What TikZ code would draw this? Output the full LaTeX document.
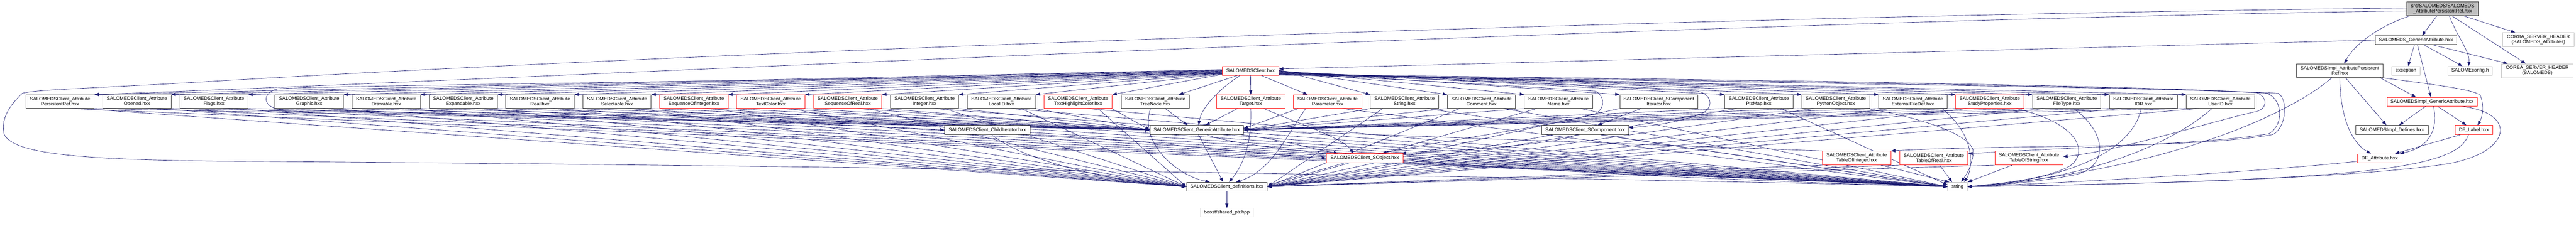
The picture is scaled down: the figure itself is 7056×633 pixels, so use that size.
\documentclass[tikz,border=0pt]{standalone}
\usepackage{fontspec}
\setmainfont{Liberation Sans}
\usetikzlibrary{arrows.meta,calc}
\definecolor{edgec}{HTML}{191970}
\definecolor{dkb}{HTML}{404040}
\definecolor{redb}{HTML}{FF2020}
\definecolor{grb}{HTML}{BFBFBF}
\definecolor{topf}{HTML}{BFBFBF}
\pgfdeclarelayer{bg}
\pgfsetlayers{bg,main}
\newcommand\attrnode[4]{\node[#1,rowbox] (#2) at (#3,278.5) {SALOMEDSClient\_Attribute\\#4.hxx};}
\begin{document}
\begin{tikzpicture}[x=0.75pt,y=-0.75pt,
  bx/.style={draw=dkb, fill=white, line width=1pt, inner sep=0pt, align=center, font=\fontsize{10}{10.6}\selectfont},
  rb/.style={bx, draw=redb, line width=0.9pt},
  gb/.style={bx, draw=grb, line width=0.9pt},
  bw/.style={minimum width=#1*0.75pt},
  bh/.style={minimum height=#1*0.75pt},
  rowbox/.style={bw=187, bh=37},
  lnk/.style={draw=edgec, line width=0.7pt, -{Triangle[length=9pt,width=6.5pt]}},
]
\useasboundingbox (0,0) rectangle (7056,633);

% ---------- nodes ----------
\node[bx,bw=196,bh=38,fill=topf] (top) at (6691,24) {src/SALOMEDS/SALOMEDS\\\_AttributePersistentRef.hxx};
\node[bx,bw=223,bh=24] (sga) at (6617.5,110) {SALOMEDS\_GenericAttribute.hxx};
\node[gb,bw=196,bh=38] (csh1) at (6953,109) {CORBA\_SERVER\_HEADER\\(SALOMEDS\_Attributes)};
\node[bx,bw=236,bh=38] (ipr) at (6409,194) {SALOMEDSImpl\_AttributePersistent\\Ref.hxx};
\node[gb,bw=78,bh=24] (exc) at (6590,194) {exception};
\node[gb,bw=122,bh=24] (cfg) at (6766,194) {SALOMEconfig.h};
\node[gb,bw=196,bh=38] (csh2) at (6950,194) {CORBA\_SERVER\_HEADER\\(SALOMEDS)};
\node[rb,bw=247,bh=24] (iga) at (6661.5,279) {SALOMEDSImpl\_GenericAttribute.hxx};
\node[bx,bw=199,bh=25] (idef) at (6551.5,356.5) {SALOMEDSImpl\_Defines.hxx};
\node[rb,bw=103,bh=25] (dfl) at (6776.5,356.5) {DF\_Label.hxx};
\node[rb,bw=122,bh=24] (dfa) at (6518,434) {DF\_Attribute.hxx};

\node[rb,bw=155,bh=24] (sc) at (3425.5,194) {SALOMEDSClient.hxx};
\node[bx,bw=256,bh=25] (cga) at (3278,356.5) {SALOMEDSClient\_GenericAttribute.hxx};
\node[bx,bw=233,bh=25] (chi) at (2704.5,356.5) {SALOMEDSClient\_ChildIterator.hxx};
\node[bx,bw=238,bh=25] (scomp) at (4342,356.5) {SALOMEDSClient\_SComponent.hxx};
\node[rb,bw=210,bh=25] (sobj) at (3738,433.5) {SALOMEDSClient\_SObject.hxx};
\node[rb,bw=187,bh=38] (toi) at (5085.5,433.5) {SALOMEDSClient\_Attribute\\TableOfInteger.hxx};
\node[rb,bw=187,bh=38] (tor) at (5297,433.5) {SALOMEDSClient\_Attribute\\TableOfReal.hxx};
\node[rb,bw=187,bh=38] (tos) at (5557.5,433.5) {SALOMEDSClient\_Attribute\\TableOfString.hxx};
\node[bx,bw=221,bh=24] (defs) at (3360.5,512) {SALOMEDSClient\_definitions.hxx};
\node[gb,bw=54,bh=24] (str) at (5362,512) {string};
\node[gb,bw=143,bh=24] (boost) at (3360.5,583) {boost/shared\_ptr.hpp};

\attrnode{bx}{pr}{164.5}{PersistentRef}
\attrnode{bx}{op}{375}{Opened}
\attrnode{bx}{fl}{586}{Flags}
\attrnode{bx}{gr}{847}{Graphic}
\attrnode{bx}{dr}{1058}{Drawable}
\attrnode{bx}{ex}{1269}{Expandable}
\attrnode{bx}{re}{1479}{Real}
\attrnode{bx}{se}{1690}{Selectable}
\attrnode{rb}{soi}{1900.5}{SequenceOfInteger}
\attrnode{rb}{tc}{2111}{TextColor}
\attrnode{rb}{sor}{2322}{SequenceOfReal}
\attrnode{bx}{int}{2532.5}{Integer}
\attrnode{bx}{li}{2743}{LocalID}
\attrnode{rb}{thc}{2953}{TextHighlightColor}
\attrnode{bx}{tn}{3164.5}{TreeNode}
\attrnode{rb}{tg}{3426}{Target}
\attrnode{rb}{pa}{3636.5}{Parameter}
\attrnode{bx}{st}{3847}{String}
\attrnode{bx}{co}{4058}{Comment}
\attrnode{bx}{na}{4269}{Name}
\node[bx,bw=213,bh=37] (sci) at (4543.5,278.5) {SALOMEDSClient\_SComponent\\Iterator.hxx};
\attrnode{bx}{pm}{4817.5}{PixMap}
\attrnode{bx}{po}{5028.5}{PythonObject}
\attrnode{bx}{ef}{5239.5}{ExternalFileDef}
\attrnode{rb}{sp}{5450}{StudyProperties}
\attrnode{bx}{ft}{5661}{FileType}
\attrnode{bx}{ior}{5871}{IOR}
\attrnode{bx}{uid}{6082}{UserID}

% ---------- edges ----------
\begin{pgfonlayer}{bg}
% top node
\draw[lnk] ([shift={(-16,0)}]top.south) -- ([shift={(17,0)}]sga.north);
\draw[lnk] ([shift={(18,0)}]top.south) .. controls (6730,100) and (6765,140) .. ([shift={(-4,0)}]cfg.north);
\draw[lnk] ([shift={(25,0)}]top.south) -- ([shift={(-32,0)}]csh2.north);
\draw[lnk] ([shift={(57,0)}]top.south) -- ([shift={(-63,0)}]csh1.north);
\draw[lnk] ([shift={(-90,0)}]top.south) .. controls (6520,70) and (6450,120) .. ([shift={(12,0)}]ipr.north);
\draw[lnk] ([shift={(0,6)}]top.west) .. controls (4500,60) and (1500,215) .. (pr.north east);
\draw[lnk] ([shift={(0,-2)}]top.west) .. controls (4500,45) and (1800,150) .. (600,222)
  .. controls (250,243) and (100,245) .. (61,256) .. controls (25,290) and (0,330) .. (12,370)
  .. controls (40,420) and (200,438) .. (600,442) .. controls (2500,455) and (4700,495) .. (str.west);
% SALOMEDS_GenericAttribute
\draw[lnk] (sga.west) -- ([shift={(0,-5)}]sc.east);
\draw[lnk] ([shift={(-4,0)}]sga.south) -- ([shift={(6,0)}]exc.north);
\draw[lnk] ([shift={(4,0)}]sga.south) -- ([shift={(-3,0)}]iga.north);
\draw[lnk] ([shift={(21,0)}]sga.south) -- ([shift={(-21,0)}]cfg.north);
\draw[lnk] ([shift={(44,0)}]sga.south) -- ([shift={(-81,0)}]csh2.north);
% SALOMEDSImpl_AttributePersistentRef
\draw[lnk] ([shift={(111,0)}]ipr.south) -- ([shift={(-44,0)}]iga.north);
\draw[lnk] ([shift={(16,0)}]ipr.south) -- ([shift={(-15,0)}]idef.north);
\draw[lnk] (ipr.south) .. controls (6410,320) and (6440,390) .. ([shift={(-24,0)}]dfa.north);
\draw[lnk] (ipr.south east) .. controls (6650,230) and (6780,245) .. (6794,262) .. controls (6805,290) and (6800,320) .. ([shift={(10,0)}]dfl.north);
\draw[lnk] ([shift={(-22,0)}]ipr.south) .. controls (6250,330) and (5900,470) .. (str.east);
% SALOMEDSImpl_GenericAttribute
\draw[lnk] ([shift={(-17,0)}]iga.south) -- ([shift={(20,0)}]idef.north);
\draw[lnk] ([shift={(15,0)}]iga.south) -- ([shift={(-21,0)}]dfl.north);
\draw[lnk] ([shift={(4,0)}]iga.south) .. controls (6680,360) and (6650,405) .. ([shift={(-6,0)}]dfa.north east);
\draw[lnk] ([shift={(80,0)}]iga.south) .. controls (6900,310) and (6880,420) .. (6700,450) .. controls (6400,495) and (5700,508) .. (str.east);
% DF
\draw[lnk] ([shift={(-37,0)}]dfl.south) -- ([shift={(42,0)}]dfa.north);
\draw[lnk] ([shift={(-15,0)}]dfl.south) .. controls (6730,460) and (6500,495) .. (str.east);
\draw[lnk] ([shift={(0,-4)}]dfa.south west) .. controls (6200,470) and (5700,500) .. (str.east);

% SALOMEDSClient.hxx to attribute row
\foreach \n [count=\i] in {pr,op,fl,gr,dr,ex,re,se,soi,tc,sor,int,li,thc} {
  \draw[lnk] ([shift={(0,{\i-4})}]sc.west) -- (\n.north east);
}
\foreach \n [count=\i] in {st,co,na,sci,pm,po,ef,sp,ft,ior,uid} {
  \draw[lnk] ([shift={(0,{\i-3})}]sc.east) -- (\n.north west);
}
\draw[lnk] ([shift={(-35,0)}]sc.south) -- ([shift={(65,0)}]tn.north);
\draw[lnk] (sc.south) -- (tg.north);
\draw[lnk] ([shift={(28,0)}]sc.south) -- ([shift={(-55,0)}]pa.north);
\draw[lnk] ([shift={(-28,0)}]sc.south) .. controls (3330,250) and (3290,300) .. ([shift={(5,0)}]cga.north);
% loops of SALOMEDSClient.hxx
\draw[lnk] ([shift={(0,8)}]sc.west) .. controls (2500,215) and (900,235) .. (765,243)
  .. controls (720,250) and (712,292) .. (770,302) .. controls (1500,315) and (2300,340) .. (chi.west);
\draw[lnk] ([shift={(0,8)}]sc.east) .. controls (3900,215) and (4450,240) .. (4650,250)
  .. controls (4690,258) and (4700,300) .. (4650,316) .. controls (4600,335) and (4520,346) .. ([shift={(0,-6)}]scomp.east);
\draw[lnk] ([shift={(0,9)}]sc.east) .. controls (3900,220) and (4250,242) .. (4370,250)
  .. controls (4395,262) and (4400,300) .. (4365,314) .. controls (4250,345) and (3900,395) .. ([shift={(-58,0)}]sobj.north east);
\draw[lnk] ([shift={(0,10)}]sc.east) .. controls (4500,215) and (5800,232) .. (6180,254)
  .. controls (6212,265) and (6212,298) .. (6180,306) .. controls (6050,335) and (5800,415) .. ([shift={(0,-4)}]tos.east);
\draw[lnk] ([shift={(0,11)}]sc.east) .. controls (4500,218) and (5900,236) .. (6210,256)
  .. controls (6255,275) and (6255,345) .. (6214,367) .. controls (6050,395) and (5750,400) .. ([shift={(0,-12)}]tor.east);
\draw[lnk] ([shift={(0,12)}]sc.east) .. controls (4500,221) and (5950,240) .. (6241,256)
  .. controls (6268,275) and (6262,350) .. (6226,369) .. controls (6000,410) and (5500,396) .. (toi.north east);

% attribute row, left part
\foreach \n in {pr,op,fl,gr,dr,ex,re,se,soi,tc,sor,int,li,thc} {
  \draw[lnk] ([shift={(-2,0)}]\n.south east) -- (cga.west);
  \draw[lnk] ([shift={(-40,0)}]\n.south east) -- (defs.west);
  \draw[lnk] ([shift={(-70,0)}]\n.south east) -- (str.west);
}
% middle
\draw[lnk] ([shift={(27,0)}]tn.south) -- ([shift={(-25,0)}]cga.north);
\draw[lnk] ([shift={(-13,0)}]tn.south) .. controls (3120,390) and (3220,480) .. ([shift={(-47,0)}]defs.north);
\draw[lnk] ([shift={(-36,0)}]tg.south) -- ([shift={(24,0)}]cga.north);
\draw[lnk] (tg.south) .. controls (3430,400) and (3400,460) .. ([shift={(6,0)}]defs.north);
\draw[lnk] ([shift={(35,0)}]tg.south) .. controls (3560,340) and (3680,380) .. ([shift={(-31,0)}]sobj.north);
\draw[lnk] ([shift={(-80,0)}]pa.south) -- ([shift={(0,-4)}]cga.east);
\draw[lnk] ([shift={(-60,0)}]pa.south) .. controls (3520,380) and (3480,470) .. ([shift={(25,0)}]defs.north);
\draw[lnk] ([shift={(40,0)}]pa.south) -- (str.west);
% right part
\foreach \n in {st,co,na,pm,po,ef,sp,ft,ior,uid} {
  \draw[lnk] ([shift={(2,0)}]\n.south west) -- (cga.east);
  \draw[lnk] ([shift={(35,0)}]\n.south west) -- (defs.east);
}
\draw[lnk] ([shift={(60,0)}]st.south) -- (str.west);
\draw[lnk] ([shift={(60,0)}]co.south) -- (str.west);
\draw[lnk] ([shift={(60,0)}]na.south) -- (str.west);
\draw[lnk] ([shift={(60,0)}]pm.south) -- ([shift={(0,-5)}]str.west);
\draw[lnk] ([shift={(85,0)}]po.south) .. controls (5300,330) and (5410,380) .. (5405,420) .. controls (5400,460) and (5385,480) .. ([shift={(10,0)}]str.north);
\draw[lnk] ([shift={(80,0)}]ef.south) .. controls (5420,380) and (5400,470) .. ([shift={(18,0)}]str.north);
\draw[lnk] ([shift={(72,0)}]sp.south) .. controls (5700,340) and (5720,420) .. (5670,455) .. controls (5600,495) and (5450,505) .. (str.east);
\draw[lnk] ([shift={(18,0)}]ft.south) .. controls (5770,360) and (5780,460) .. (5680,480) .. controls (5580,500) and (5450,510) .. (str.east);
\draw[lnk] ([shift={(-6,0)}]ior.south) .. controls (5840,420) and (5650,495) .. (str.east);
\draw[lnk] ([shift={(-23,0)}]uid.south) .. controls (5920,420) and (5650,500) .. (str.east);
\draw[lnk] ([shift={(-48,0)}]sci.south) -- ([shift={(34,0)}]scomp.north);
\draw[lnk] (sci.south west) -- (defs.east);
% second level
\draw[lnk] (chi.south east) .. controls (3050,375) and (3450,425) .. (sobj.west);
\draw[lnk] ([shift={(12,0)}]chi.south) .. controls (2800,440) and (3050,500) .. (defs.west);
\draw[lnk] ([shift={(5,0)}]cga.south) -- ([shift={(-10,0)}]defs.north);
\draw[lnk] ([shift={(28,0)}]cga.south) .. controls (3450,430) and (4500,490) .. (str.west);
\draw[lnk] ([shift={(-8,0)}]cga.south east) .. controls (3500,380) and (3600,410) .. ([shift={(-73,0)}]sobj.north);
\draw[lnk] ([shift={(-54,0)}]sobj.south) -- ([shift={(0,-4)}]defs.east);
\draw[lnk] (sobj.south east) -- (str.west);
\draw[lnk] ([shift={(-23,0)}]scomp.south) .. controls (4250,400) and (3950,415) .. ([shift={(-5,0)}]sobj.north east);
\draw[lnk] ([shift={(-88,0)}]scomp.south) -- (defs.east);
\draw[lnk] ([shift={(42,0)}]scomp.south) -- (str.west);
\draw[lnk] ([shift={(67,0)}]toi.south) -- ([shift={(5,0)}]str.north west);
\draw[lnk] (toi.south west) -- (defs.east);
\draw[lnk] (toi.north west) -- (cga.east);
\draw[lnk] ([shift={(16,0)}]tor.south) -- ([shift={(-15,0)}]str.north);
\draw[lnk] (tor.south west) -- (defs.east);
\draw[lnk] ([shift={(-46,0)}]tos.south) -- (str.north east);
\draw[lnk] (tos.south west) -- (defs.east);
\draw[lnk] (defs.south) -- (boost.north);
\end{pgfonlayer}
\end{tikzpicture}
\end{document}
